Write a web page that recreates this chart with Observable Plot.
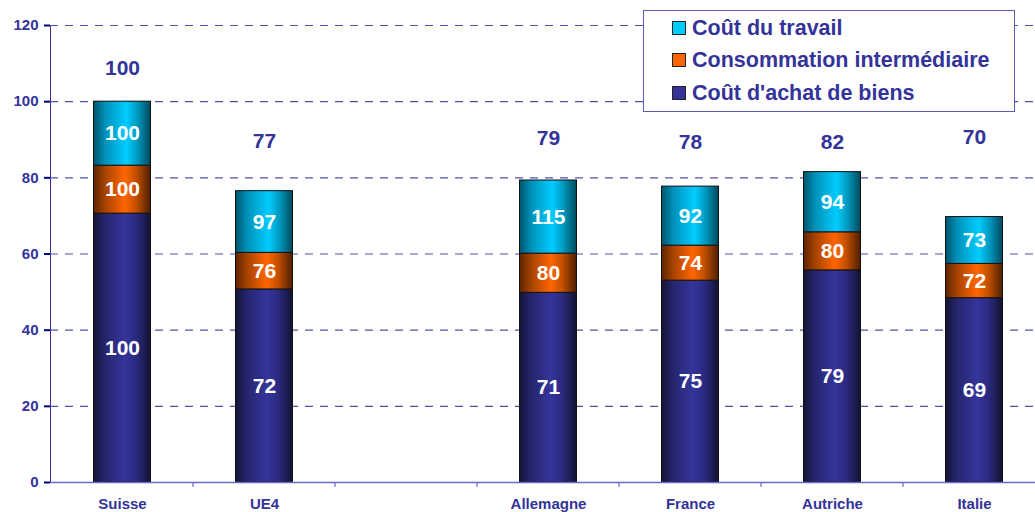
<!DOCTYPE html>
<html><head><meta charset="utf-8">
<script src="https://cdn.jsdelivr.net/npm/d3@7"></script>
<script src="https://cdn.jsdelivr.net/npm/@observablehq/plot@0.6"></script>
<style>
html,body{margin:0;padding:0;background:#fff;overflow:hidden}
#wrap{position:relative;width:1035px;height:512px;font-family:"Liberation Sans",Arial,sans-serif}
#legend{position:absolute;left:643px;top:10px;width:372px;height:102px;border:1.5px solid #5b5bb5;background:#fff;box-sizing:border-box}
.item{position:absolute;left:28px;height:24px;display:flex;align-items:center;font-weight:bold;font-size:21.5px;color:#333399;white-space:nowrap}
.sw{width:12px;height:12px;border:1px solid #222;margin-right:6px}
#chart g[aria-label="y-axis tick"], #chart g[aria-label="y-axis line"]{color:#000080;stroke-width:2}
</style></head><body><div id="wrap"><div id="chart"></div><div id="legend"></div></div>
<script>
// ---- data ----
const categories = ["Suisse", "UE4", " ", "Allemagne", "France", "Autriche", "Italie"];
const barCats = ["Suisse", "UE4", "Allemagne", "France", "Autriche", "Italie"];
const seriesNames = ["Coût d'achat de biens", "Consommation intermédiaire", "Coût du travail"];
// bar segment heights (chart units)
const achatHeight = [70.6, 50.7, 49.8, 53.0, 55.7, 48.4];
const consoHeight = [12.6, 9.6, 10.3, 9.2, 10.0, 9.0];
const travailHeight = [16.8, 16.2, 19.2, 15.5, 15.8, 12.3];
// index labels
const achatIndex = [100, 72, 71, 75, 79, 69];
const consoIndex = [100, 76, 80, 74, 80, 72];
const travailIndex = [100, 97, 115, 92, 94, 73];
const totalIndex = [100, 77, 79, 78, 82, 70];
const totalLabelY = [108.8, 89.6, 90.3, 89.3, 89.4, 90.7];
const yTicks = [0, 20, 40, 60, 80, 100, 120];

// ---- build table ----
const gradIds = ["g-achat", "g-conso", "g-travail"];
const legendColors = ["#333399", "#ff6600", "#00ccff"];
const heights = [achatHeight, consoHeight, travailHeight];
const indices = [achatIndex, consoIndex, travailIndex];
const rows = [];
seriesNames.forEach((s, k) => barCats.forEach((c, i) => rows.push({
  cat: c, series: s, value: heights[k][i], label: indices[k][i], fill: `url(#${gradIds[k]})`
})));
const totals = barCats.map((c, i) => ({cat: c, total: totalIndex[i], labelY: totalLabelY[i]}));

const gradStops = [
  [[0, "#141436"], [0.2, "#25256e"], [0.55, "#35359c"], [0.75, "#2a2a80"], [1, "#121232"]],
  [[0, "#5e2400"], [0.2, "#a54200"], [0.55, "#ff6600"], [0.75, "#c24f00"], [1, "#4e1e00"]],
  [[0, "#00546c"], [0.2, "#0090b8"], [0.58, "#00ccff"], [0.78, "#0096bb"], [1, "#00485c"]]
];

function defsMark() {
  const g = d3.create("svg:g");
  const defs = g.append("defs");
  gradIds.forEach((id, k) => {
    const lg = defs.append("linearGradient").attr("id", id).attr("x1", 0).attr("x2", 1).attr("y1", 0).attr("y2", 0);
    gradStops[k].forEach(([o, c]) => lg.append("stop").attr("offset", o).attr("stop-color", c));
  });
  return g.node();
}

function boundaryTicks(index, scales) {
  const x = scales.x, y = scales.y;
  const g = d3.create("svg:g").attr("stroke", "#6a6acc").attr("stroke-width", 1.2);
  categories.slice(1).forEach(c => {
    const px = x(c);
    g.append("line").attr("x1", px).attr("x2", px).attr("y1", y(0)).attr("y2", y(0) + 5);
  });
  return g.node();
}

const chart = Plot.plot({
  width: 1035, height: 512,
  marginLeft: 50, marginRight: 0, marginTop: 25, marginBottom: 30,
  style: {fontFamily: "Liberation Sans, Arial, sans-serif", fontSize: "15px", fontWeight: "bold", color: "#333399", background: "white", overflow: "visible"},
  x: {domain: categories, range: [50, 1046], padding: 0, label: null, tickSize: 0, tickPadding: 16},
  y: {domain: [0, 120], ticks: yTicks, tickSize: 6, tickPadding: 6, label: null, line: true},
  color: {type: "identity"},
  marks: [
    defsMark,
    Plot.ruleY(yTicks.filter(d => d > 0), {stroke: "#5050aa", strokeDasharray: "8,7", strokeWidth: 1.2}),
    Plot.barY(rows, {x: "cat", y: "value", fill: "fill", stroke: "#111", strokeWidth: 1, insetLeft: 42.5, insetRight: 42.5}),
    Plot.ruleY([0], {stroke: "#6a6acc", strokeWidth: 1.5}),
    boundaryTicks,
    Plot.text(rows, Plot.stackY({x: "cat", y: "value", text: "label", fill: "white", fontSize: 21, fontWeight: "bold"})),
    Plot.text(totals, {x: "cat", y: "labelY", text: "total", fill: "#333399", fontSize: 21, fontWeight: "bold"})
  ]
});
document.getElementById("chart").appendChild(chart);

// legend (top to bottom: travail, conso, achat)
const legend = document.getElementById("legend");
const tops = [5, 37, 70];
[2, 1, 0].forEach((k, r) => {
  const it = document.createElement("div");
  it.className = "item";
  it.style.top = tops[r] + "px";
  const sw = document.createElement("span");
  sw.className = "sw";
  sw.style.background = legendColors[k];
  it.appendChild(sw);
  it.appendChild(document.createTextNode(seriesNames[k]));
  legend.appendChild(it);
});
</script></body></html>
